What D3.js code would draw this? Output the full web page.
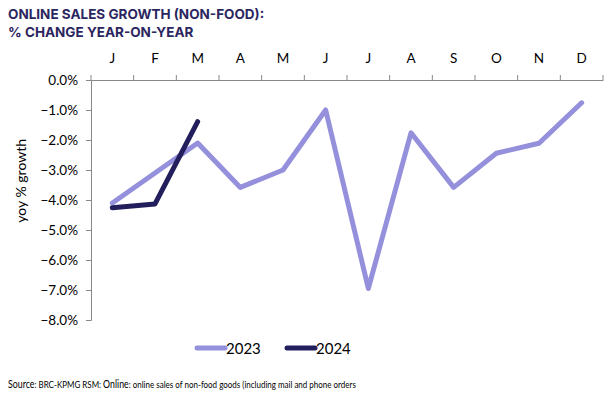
<!DOCTYPE html>
<html>
<head>
<meta charset="utf-8">
<script src="https://cdn.jsdelivr.net/npm/d3@7"></script>
<style>
  body { margin: 0; background: #fff; }
  text { font-family: Lato, "Liberation Sans", sans-serif; }
</style>
</head>
<body>
<script>
// chart data
const months = ["J", "F", "M", "A", "M", "J", "J", "A", "S", "O", "N", "D"];
const sales2023 = [-4.1, -3.1, -2.1, -3.58, -3.0, -1.0, -6.95, -1.76, -3.58, -2.44, -2.11, -0.76];
const sales2024 = [-4.26, -4.13, -1.39];
const yTicks = [0, -1, -2, -3, -4, -5, -6, -7, -8];

const width = 616;
const height = 395;
const margin = { top: 80, left: 91, right: 13, bottom: 75 };

let svg = d3.select("body")
    .append("svg")
    .attr("width", width)
    .attr("height", height);

// x is a band scale so the ticks fall between the months
let x = d3.scaleBand()
    .domain(d3.range(months.length))
    .range([margin.left, width - margin.right]);

let y = d3.scaleLinear()
    .domain([-8, 0])
    .range([height - margin.bottom, margin.top]);

// title
let title = svg.append("text")
    .attr("x", 8)
    .attr("y", 19)
    .style("font-family", "Inter, 'Open Sans', sans-serif")
    .style("font-weight", 700)
    .style("font-size", "13.5px")
    .style("fill", "#2b2660");
title.append("tspan").attr("x", 8).text("ONLINE SALES GROWTH (NON-FOOD):");
title.append("tspan").attr("x", 8).attr("dy", 18).text("% CHANGE YEAR-ON-YEAR");

// x axis sits on the 0% line with labels above it
let xAxis = svg.append("g")
    .attr("transform", "translate(0," + y(0) + ")")
    .call(d3.axisTop(x).tickSize(0).tickFormat(i => months[i]));
xAxis.selectAll("text")
    .attr("y", -17)
    .style("font-size", "13.5px")
    .style("fill", "#000");
xAxis.select(".domain").attr("stroke", "#888");

// tick marks on band edges
svg.append("g")
    .selectAll("line")
    .data(d3.range(months.length + 1))
    .enter()
        .append("line")
        .attr("x1", i => margin.left + i * x.step())
        .attr("x2", i => margin.left + i * x.step())
        .attr("y1", y(0))
        .attr("y2", y(0) - 5)
        .attr("stroke", "#888");

// y axis
let yAxis = svg.append("g")
    .attr("transform", "translate(" + margin.left + ",0)")
    .call(d3.axisLeft(y).tickValues(yTicks).tickSize(5).tickPadding(8)
      .tickFormat(d => d3.format(".1f")(d) + "%"));
yAxis.select(".domain").attr("stroke", "#888");
yAxis.selectAll(".tick line").attr("stroke", "#888");
yAxis.selectAll("text")
    .style("font-size", "13.5px")
    .style("fill", "#000");

svg.append("text")
    .attr("transform", "translate(26," + y(-3.36) + ") rotate(-90)")
    .attr("text-anchor", "middle")
    .style("font-size", "14px")
    .style("fill", "#000")
    .text("yoy % growth");

// lines
let line = d3.line()
    .x((d, i) => x(i) + x.bandwidth() / 2)
    .y(d => y(d));

let series = [
  { name: "2023", values: sales2023, color: "#9590db" },
  { name: "2024", values: sales2024, color: "#231f5c" }
];

svg.selectAll(".series")
    .data(series)
    .enter()
        .append("path")
        .attr("class", "series")
        .attr("d", d => line(d.values))
        .attr("fill", "none")
        .attr("stroke", d => d.color)
        .attr("stroke-width", 5)
        .attr("stroke-linecap", "round")
        .attr("stroke-linejoin", "round");

// legend
let legend = svg.selectAll(".legend")
    .data(series)
    .enter()
        .append("g")
        .attr("class", "legend")
        .attr("transform", (d, i) => "translate(" + (197 + i * 90) + ",348)");

legend.append("line")
    .attr("x1", 0)
    .attr("x2", 28)
    .attr("stroke", d => d.color)
    .attr("stroke-width", 5)
    .attr("stroke-linecap", "round");

legend.append("text")
    .attr("x", 29)
    .attr("y", 5.5)
    .style("font-size", "15px")
    .style("fill", "#000")
    .text(d => d.name);

// source note, squeezed horizontally to match the condensed face of the original
let source = svg.append("g")
    .attr("transform", "translate(8,388) scale(0.8,1)")
    .append("text")
    .style("font-size", "10px")
    .style("fill", "#000");
source.append("tspan").style("font-size", "11px").text("Source");
source.append("tspan").text(": BRC-KPMG RSM: ");
source.append("tspan").style("font-size", "11px").text("Online");
source.append("tspan").text(": online sales of non-food goods (including mail and phone orders");
</script>
</body>
</html>
